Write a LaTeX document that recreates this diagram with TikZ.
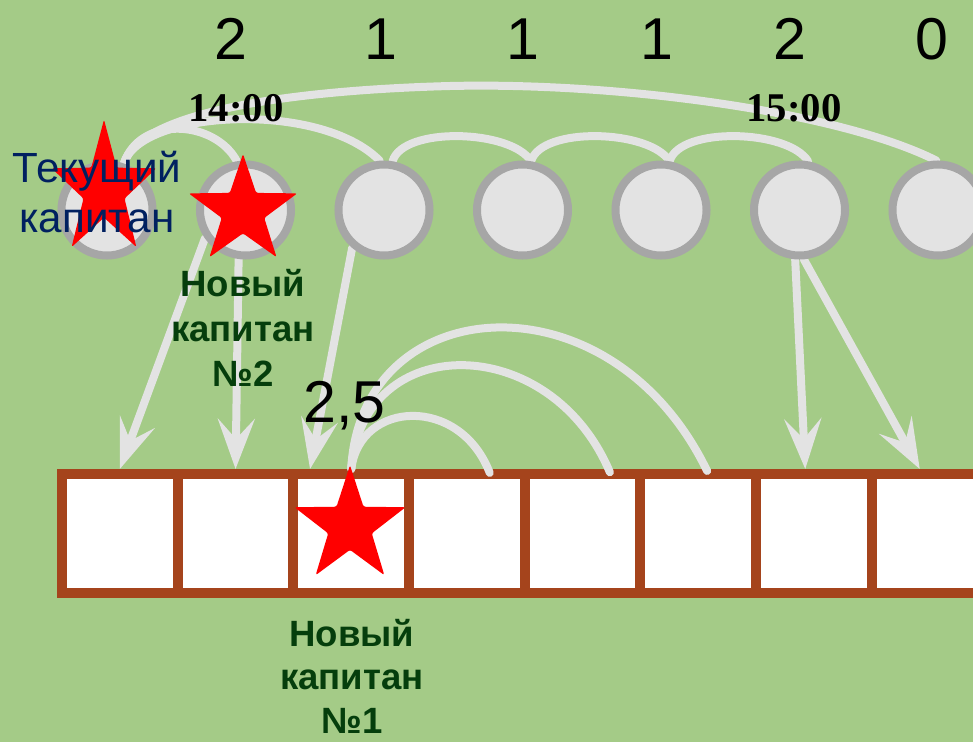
\documentclass[tikz,border=0pt]{standalone}
\usepackage{fontspec}
\setmainfont{Liberation Sans}
\newfontfamily\clockfont{Liberation Serif}
\usetikzlibrary{shapes.geometric,arrows.meta,backgrounds}

\definecolor{board}{RGB}{164,203,135}
\definecolor{brick}{RGB}{165,68,28}
\definecolor{pale}{RGB}{227,227,227}
\definecolor{ring}{RGB}{166,166,166}
\definecolor{navy}{RGB}{0,32,96}
\definecolor{leaf}{RGB}{5,62,12}

\tikzset{
  slot/.style={circle,draw=ring,fill=pale,line width=0.2cm,minimum size=2.275cm,inner sep=0pt},
  cell/.style={rectangle,draw=brick,fill=white,line width=0.25cm,minimum width=2.8925cm,minimum height=2.975cm,inner sep=0pt},
  link/.style={draw=pale,line width=0.2cm,line cap=round},
  jump/.style={link,-{Stealth[length=1.25cm,width=0.92cm,inset=0.5cm]}},
  redstar/.style={star,star points=5,star point ratio=2.55,fill=red,inner sep=0pt,rounded corners=1.5pt},
  digit/.style={font=\fontsize{42}{48}\selectfont},
  clock/.style={font=\clockfont\bfseries\fontsize{29}{34}\selectfont},
  captain/.style={font=\bfseries\fontsize{26}{32}\selectfont,text=leaf,align=center},
}

\begin{document}
\begin{tikzpicture}[x=0.025cm,y=0.025cm]
\useasboundingbox (0,0) rectangle (973,-742);
\foreach \i in {0,...,6}
  \node[slot] (c\i) at ({107+138.5*\i},-210) {};
\foreach \k in {0,...,7}
  \node[cell] (cell\k) at ({119.85+115.7*\k},-533.5) {};
\begin{scope}[on background layer]
\fill[board] (0,0) rectangle (973,-742);
\draw[link] (c0.70) .. controls (140,-110) and (300,-90) .. (450,-86) .. controls (620,-82) and (840,-112) .. (c6.92);
\draw[link] (c0.70) .. controls (140,-110) and (320,-100) .. (c2.95);
\draw[link] (c0.70) .. controls (140,-115) and (215,-120) .. (c1.100);
\foreach \a/\b in {2/3,3/4,4/5}
  \draw[link] (c\a.80) .. controls +(10,35) and +(-20,32) .. (c\b.80);
\draw[jump] (c1.215) -- (cell0.north);
\draw[jump] (c1.262) -- (cell1.north);
\draw[jump] (c2.230) -- ([xshift=-1.03cm]cell2.north);
\draw[jump] (c5.265) -- ([xshift=-0.22cm]cell6.north);
\draw[jump] (c5.275) -- ([xshift=-0.25cm]cell7.north);
\end{scope}
\draw[link] (cell2.north) .. controls (360,-400) and (460,-395) .. ([xshift=0.57cm,yshift=-0.1cm]cell3.north);
\draw[link] (cell2.north) .. controls (362,-330) and (550,-330) .. ([xshift=0.68cm,yshift=-0.08cm]cell4.north);
\draw[link] (cell2.north) .. controls (360,-290) and (610,-270) .. ([xshift=0.22cm,yshift=-0.05cm]cell5.north);
\begin{scope}[shift={(104,-190)},yscale=1.28]
  \node[redstar,minimum size=2.75cm,transform shape] (s0) at (0,0) {};
\end{scope}
\node[redstar,minimum size=2.85cm] (s1) at (243,-211) {};
\node[redstar,minimum size=2.92cm,yscale=1.04,transform shape] (s2) at (350,-526) {};
\foreach \v/\x [count=\j] in {2/231,1/381,1/523,1/657,2/790,0/932}
  \node[digit] (n\j) at (\x,-39) {\v};
\node[clock] (t14) at (236,-108) {14:00};
\node[clock] (t15) at (794,-108) {15:00};
\node[digit,anchor=base] (half) at (344.5,-422) {2,5};
\node[font=\fontsize{30}{36}\selectfont,text=navy,align=center] (now) at (97,-192) {Текущий\\капитан};
\node[captain] (cap2) at (243,-328) {Новый\\капитан\\№2};
\node[captain,font=\bfseries\fontsize{26}{31}\selectfont] (cap1) at (352,-676) {Новый\\капитан\\№1};
\end{tikzpicture}
\end{document}
